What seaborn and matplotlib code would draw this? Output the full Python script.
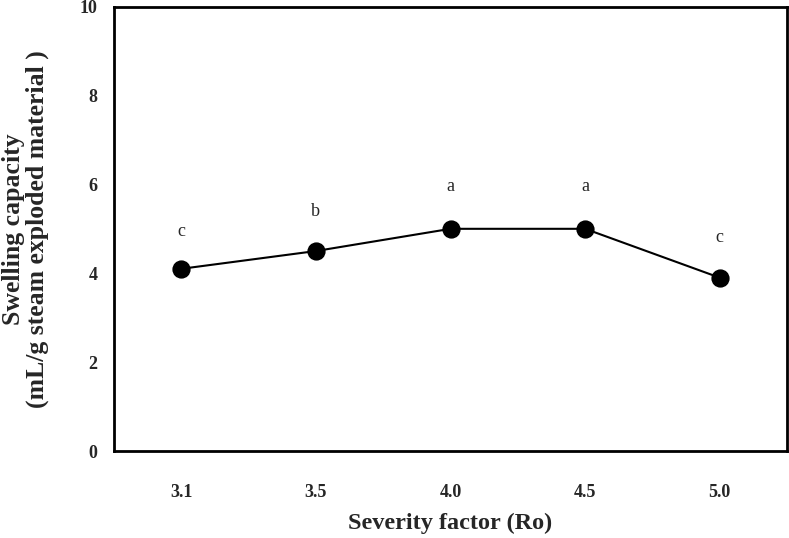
import numpy as np
import pandas as pd
import matplotlib
matplotlib.use('Agg')
import matplotlib.pyplot as plt
import seaborn as sns

# data
severity = ['3.1', '3.5', '4.0', '4.5', '5.0']
swelling = [4.1, 4.5, 5.0, 5.0, 3.9]
groups = ['c', 'b', 'a', 'a', 'c']
letter_pos = [4.95, 5.4, 5.95, 5.95, 4.8]

df = pd.DataFrame({'severity': severity, 'swelling': swelling})

sns.set_style('white')
plt.rcParams['font.family'] = ['Liberation Serif', 'DejaVu Serif']

fig = plt.figure(figsize=(7.89, 5.38), dpi=100)
ax = fig.add_axes([0.1445, 0.1617, 0.853, 0.826])

sns.pointplot(data=df, x='severity', y='swelling', color='black',
              markers='o', markersize=12, linewidth=1.5, errorbar=None, ax=ax)

for i, (g, yp) in enumerate(zip(groups, letter_pos)):
    ax.text(i, yp, g, ha='center', va='center', fontsize=13)

ax.set_xlim(-0.5, 4.5)
ax.set_ylim(0, 10)
ax.set_yticks(np.arange(0, 11, 2))
ax.tick_params(axis='both', length=0, labelsize=13)
ax.tick_params(axis='x', pad=24)
ax.tick_params(axis='y', pad=12)
for lab in ax.get_xticklabels() + ax.get_yticklabels():
    lab.set_fontweight('bold')

for s in ax.spines.values():
    s.set_visible(True)
    s.set_color('black')
    s.set_linewidth(2)

ax.set_xlabel('Severity factor (Ro)', fontsize=17.5, fontweight='bold', labelpad=8)
ax.set_ylabel('Swelling capacity\n(mL/g steam exploded material )', fontsize=18.5,
              fontweight='bold', labelpad=22, linespacing=1.0)

fig.savefig('out.png', dpi=100)
